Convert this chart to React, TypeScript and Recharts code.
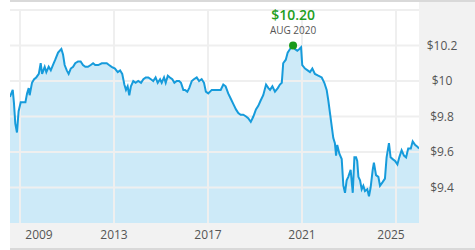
import React from "react";
import {
  ComposedChart,
  Area,
  Line,
  XAxis,
  YAxis,
  ReferenceLine,
  ReferenceDot,
} from "recharts";

// Decimal-year dates
const dates: number[] = [
  2008.57, 2008.69, 2008.74, 2008.8, 2008.87, 2008.94, 2009.03, 2009.13, 2009.23, 2009.3,
  2009.37, 2009.41, 2009.51, 2009.6, 2009.69, 2009.8, 2009.88, 2009.94, 2010.05, 2010.12,
  2010.22, 2010.31, 2010.4, 2010.5, 2010.62, 2010.76, 2010.83, 2010.9, 2010.99, 2011.07,
  2011.16, 2011.26, 2011.35, 2011.47, 2011.58, 2011.68, 2011.78, 2011.89, 2012.01, 2012.11,
  2012.2, 2012.33, 2012.48, 2012.59, 2012.69, 2012.79, 2012.9, 2013.04, 2013.16, 2013.26,
  2013.35, 2013.44, 2013.51, 2013.58, 2013.65, 2013.72, 2013.82, 2013.92, 2014.03, 2014.15,
  2014.25, 2014.35, 2014.46, 2014.57, 2014.67, 2014.77, 2014.86, 2014.96, 2015.03, 2015.13,
  2015.2, 2015.29, 2015.38, 2015.48, 2015.57, 2015.67, 2015.77, 2015.85, 2015.95, 2016.02,
  2016.12, 2016.2, 2016.31, 2016.4, 2016.52, 2016.62, 2016.73, 2016.83, 2016.91, 2017.01,
  2017.16, 2017.3, 2017.44, 2017.54, 2017.65, 2017.75, 2017.86, 2017.97, 2018.08, 2018.19,
  2018.29, 2018.39, 2018.5, 2018.62, 2018.71, 2018.82, 2018.93, 2019.04, 2019.14, 2019.24,
  2019.35, 2019.47, 2019.57, 2019.64, 2019.74, 2019.85, 2019.97, 2020.06, 2020.14, 2020.2,
  2020.31, 2020.39, 2020.49, 2020.62, 2020.7, 2020.8, 2020.89, 2020.96, 2021.01, 2021.13,
  2021.24, 2021.34, 2021.44, 2021.55, 2021.69, 2021.84, 2021.95, 2022.05, 2022.12, 2022.19,
  2022.26, 2022.33, 2022.4, 2022.45, 2022.5, 2022.59, 2022.69, 2022.76, 2022.83, 2022.9,
  2022.97, 2023.07, 2023.16, 2023.23, 2023.3, 2023.35, 2023.4, 2023.47, 2023.54, 2023.61,
  2023.68, 2023.78, 2023.85, 2023.92, 2024.01, 2024.06, 2024.15, 2024.25, 2024.32, 2024.43,
  2024.53, 2024.6, 2024.7, 2024.77, 2024.86, 2024.96, 2025.06, 2025.14, 2025.24, 2025.34,
  2025.43, 2025.52, 2025.63, 2025.71, 2025.81, 2025.91, 2025.98,
];

// NAV values ($)
const navs: number[] = [
  9.91, 9.95, 9.88, 9.76, 9.71, 9.83, 9.88, 9.88, 9.88, 9.93,
  9.96, 9.92, 9.99, 10.01, 10.02, 10.04, 10.1, 10.04, 10.08, 10.05,
  10.08, 10.06, 10.09, 10.12, 10.16, 10.18, 10.15, 10.09, 10.06, 10.04,
  10.07, 10.08, 10.1, 10.11, 10.11, 10.09, 10.08, 10.08, 10.09, 10.1,
  10.09, 10.09, 10.1, 10.1, 10.1, 10.09, 10.08, 10.07, 10.05, 10.06,
  10.04, 9.98, 9.95, 9.97, 9.92, 9.97, 10.0, 9.99, 10.0, 9.99,
  10.01, 10.02, 10.02, 10.01, 10.0, 10.02, 9.99, 10.01, 9.99, 10.02,
  9.99, 10.03, 10.02, 10.01, 9.99, 10.0, 10.0, 9.99, 9.95, 9.95,
  9.94, 9.96, 10.0, 10.01, 10.02, 10.0, 10.01, 9.99, 9.94, 9.93,
  9.95, 9.95, 9.95, 9.95, 9.98, 9.97, 9.93, 9.9, 9.87, 9.84,
  9.82, 9.81, 9.81, 9.8, 9.79, 9.77, 9.8, 9.84, 9.86, 9.89,
  9.92, 9.98, 9.96, 9.95, 9.97, 9.94, 9.96, 9.98, 9.99, 10.1,
  10.12, 10.16, 10.18, 10.2, 10.18, 10.17, 10.18, 10.19, 10.09, 10.07,
  10.06, 10.05, 10.07, 10.04, 10.03, 10.02, 9.99, 9.95, 9.89, 9.82,
  9.75, 9.68, 9.65, 9.58, 9.64, 9.59, 9.56, 9.41, 9.37, 9.44,
  9.46, 9.5, 9.37, 9.57, 9.57, 9.55, 9.46, 9.44, 9.39, 9.41,
  9.38, 9.39, 9.35, 9.4, 9.5, 9.54, 9.47, 9.46, 9.41, 9.43,
  9.45, 9.57, 9.65, 9.57, 9.56, 9.55, 9.53, 9.57, 9.61, 9.58,
  9.57, 9.62, 9.62, 9.66, 9.64, 9.63, 9.62,
];

const xTicks: number[] = [2009, 2013, 2017, 2021, 2025];
const yGrid: number[] = [9.4, 9.6, 9.8, 10, 10.2, 10.4];
const yTicks: number[] = [9.4, 9.6, 9.8, 10, 10.2];
const peakLabel = "AUG 2020";

const data = dates.map((t, i) => ({ t, v: navs[i] }));
const peakIdx = navs.indexOf(Math.max(...navs));
const peak = data[peakIdx];

const FONT = "'Open Sans', 'Noto Sans', sans-serif";
const xTickShift: Record<number, number> = { 2009: 19, 2025: -5 };

const XTick = (props: any) => {
  const { x, y, payload } = props;
  return (
    <text
      x={x + (xTickShift[payload.value] ?? 0)}
      y={y}
      dy="0.71em"
      textAnchor="middle"
      fill="#555"
      fontSize={12}
      fontFamily={FONT}
    >
      {payload.value}
    </text>
  );
};

const YTick = (props: any) => {
  const { x, y, payload } = props;
  return (
    <text
      x={x}
      y={y}
      dy="0.355em"
      textAnchor="middle"
      fill="#555"
      fontSize={12}
      fontFamily={FONT}
    >
      {"$" + payload.value}
    </text>
  );
};

const PeakLabel = (props: any) => {
  const vb = props.viewBox || {};
  const cx = (vb.x ?? 0) + (vb.width ?? 0) / 2;
  const cy = (vb.y ?? 0) + (vb.height ?? 0) / 2;
  return (
    <g>
      <text
        x={cx}
        y={cy - 26}
        textAnchor="middle"
        fill="#1f9e1f"
        fontSize={14}
        fontWeight={600}
        fontFamily={FONT}
      >
        {"$" + peak.v.toFixed(2)}
      </text>
      <text
        x={cx}
        y={cy - 12}
        textAnchor="middle"
        fill="#555"
        fontSize={10}
        fontFamily={FONT}
      >
        {peakLabel}
      </text>
    </g>
  );
};

export default function App() {
  const extra: any = {};
  return (
    <div
      style={{
        position: "absolute",
        left: 0,
        top: 0,
        width: 475,
        height: 250,
        background: "#fff",
        overflow: "hidden",
      }}
    >
      <div style={{ position: "absolute", left: 10, top: 0, width: 465, height: 2, background: "#d9d9d9" }} />
      <div style={{ position: "absolute", left: 419, top: 2, width: 56, height: 245, background: "#f2f2f2" }} />
      <div style={{ position: "absolute", left: 10, top: 223, width: 465, height: 24.5, background: "#f2f2f2" }} />
      <div style={{ position: "absolute", left: 10, top: 247.5, width: 465, height: 2.5, background: "#d9d9d9" }} />
      <div style={{ position: "absolute", left: 0, top: 0 }}>
        <ComposedChart
          width={475}
          height={250}
          data={data}
          margin={{ top: 10, right: 0, bottom: 0, left: 10 }}
        >
          <XAxis
            dataKey="t"
            type="number"
            domain={[2008.574, 2025.979]}
            ticks={xTicks}
            allowDataOverflow
            height={27}
            tickSize={0}
            tickMargin={7}
            axisLine={false}
            tickLine={false}
            tick={<XTick />}
            interval={0}
          />
          <YAxis
            orientation="right"
            domain={[9.2, 10.4]}
            ticks={yTicks}
            allowDataOverflow
            width={56}
            tickSize={0}
            tickMargin={23}
            axisLine={false}
            tickLine={false}
            tick={<YTick />}
            interval={0}
          />
          <Area
            type="linear"
            dataKey="v"
            stroke="none"
            fill="#cdeaf8"
            fillOpacity={1}
            isAnimationActive={false}
            dot={false}
            activeDot={false}
            zIndex={100}
          />
          {yGrid.map((v) => (
            <ReferenceLine key={"y" + v} y={v} stroke="#efefef" strokeWidth={2} zIndex={150} />
          ))}
          {xTicks.map((v) => (
            <ReferenceLine key={"x" + v} x={v} stroke="#efefef" strokeWidth={2} zIndex={150} />
          ))}
          <Line
            type="linear"
            dataKey="v"
            stroke="#169bdb"
            strokeWidth={2}
            isAnimationActive={false}
            dot={false}
            activeDot={false}
            zIndex={400}
          />
          <ReferenceDot
            x={peak.t}
            y={peak.v}
            r={4}
            fill="#1a9a1a"
            stroke="none"
            label={<PeakLabel />}
            zIndex={600}
          />
        </ComposedChart>
      </div>
    </div>
  );
}
